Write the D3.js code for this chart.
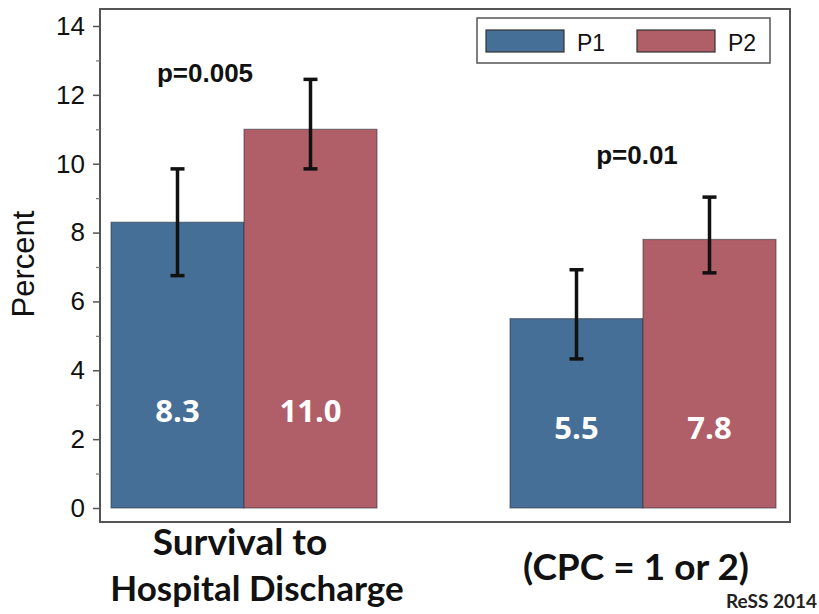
<!DOCTYPE html>
<html>
<head>
<meta charset="utf-8">
<script src="https://cdn.jsdelivr.net/npm/d3@7"></script>
<style>
  html, body { margin: 0; padding: 0; background: #fff; }
  svg { display: block; }
</style>
</head>
<body>
<svg id="chart" width="819" height="614"></svg>
<script>
// Outcome rates (%) by period, with confidence interval bounds
const groups = ["survival", "cpc"];
const periods = ["P1", "P2"];
const p1Values = [8.3, 5.5];
const p2Values = [11.0, 7.8];
const p1Low = [6.75, 4.33];
const p1High = [9.85, 6.92];
const p2Low = [9.85, 6.83];
const p2High = [12.45, 9.03];
const pLabels = ["p=0.005", "p=0.01"];
const categoryLines = [["Survival to", "Hospital Discharge"], ["(CPC = 1 or 2)"]];
const yTicks = [0, 2, 4, 6, 8, 10, 12, 14];
const yMinorTicks = [1, 3, 5, 7, 9, 11, 13];

const colors = { P1: "#466f98", P2: "#b05e67" };

const rows = groups.map((g, i) => ({
  group: g,
  bars: [
    { period: "P1", value: p1Values[i], lo: p1Low[i], hi: p1High[i] },
    { period: "P2", value: p2Values[i], lo: p2Low[i], hi: p2High[i] }
  ]
}));

const svg = d3.select("#chart");

const frame = { left: 100, top: 9, right: 790, bottom: 522 };

const y = d3.scaleLinear().domain([0, 14]).range([508, 26]);
const x0 = d3.scaleBand().domain(groups).range([111, 776]).paddingInner(1 / 3);
const x1 = d3.scaleBand().domain(periods).range([0, x0.bandwidth()]).padding(0);

// bars
const g = svg.selectAll("g.grp").data(rows).join("g")
  .attr("class", "grp")
  .attr("transform", d => `translate(${x0(d.group)},0)`);

g.selectAll("rect.bar").data(d => d.bars).join("rect")
  .attr("class", "bar")
  .attr("x", d => x1(d.period))
  .attr("y", d => y(d.value))
  .attr("width", x1.bandwidth())
  .attr("height", d => y(0) - y(d.value))
  .attr("fill", d => colors[d.period])
  .attr("stroke", "#2e3440")
  .attr("stroke-opacity", 0.55)
  .attr("stroke-width", 1.2);

// error bars
const capW = 14;
g.selectAll("g.err").data(d => d.bars).join("g")
  .attr("class", "err")
  .each(function (d) {
    const cx = x1(d.period) + x1.bandwidth() / 2;
    const e = d3.select(this);
    e.append("line").attr("x1", cx).attr("x2", cx).attr("y1", y(d.lo)).attr("y2", y(d.hi))
      .attr("stroke", "#111").attr("stroke-width", 3.5);
    [d.lo, d.hi].forEach(v => {
      e.append("line").attr("x1", cx - capW / 2).attr("x2", cx + capW / 2)
        .attr("y1", y(v)).attr("y2", y(v))
        .attr("stroke", "#111").attr("stroke-width", 3.5);
    });
  });

// value labels inside the bars
const labelLevel = [2.5, 2.0];
g.each(function (d, i) {
  d3.select(this).selectAll("text.val").data(d.bars).join("text")
    .attr("class", "val")
    .attr("x", b => x1(b.period) + x1.bandwidth() / 2)
    .attr("y", y(labelLevel[i]))
    .attr("text-anchor", "middle")
    .attr("font-family", "Open Sans, sans-serif")
    .attr("font-weight", "bold")
    .attr("font-size", 31)
    .attr("fill", "#fff")
    .text(b => b.value.toFixed(1));
});

// p-value annotations
const pOffsets = [{ dx: -39, v: 12.37 }, { dx: -6, v: 10.0 }];
svg.selectAll("text.pval").data(pLabels).join("text")
  .attr("class", "pval")
  .attr("x", (d, i) => x0(groups[i]) + x0.bandwidth() / 2 + pOffsets[i].dx)
  .attr("y", (d, i) => y(pOffsets[i].v))
  .attr("text-anchor", "middle")
  .attr("font-family", "Liberation Sans, Arial, sans-serif")
  .attr("font-weight", "bold")
  .attr("font-size", 26)
  .attr("fill", "#111")
  .text(d => d);

// frame
svg.append("rect")
  .attr("x", frame.left).attr("y", frame.top)
  .attr("width", frame.right - frame.left).attr("height", frame.bottom - frame.top)
  .attr("fill", "none").attr("stroke", "#555").attr("stroke-width", 2);

// y axis
const yAxis = d3.axisLeft(y).tickValues(yTicks).tickSize(7).tickPadding(8).tickFormat(d3.format("d"));
const ya = svg.append("g").attr("transform", `translate(${frame.left},0)`).call(yAxis);
ya.select(".domain").remove();
ya.selectAll(".tick line").attr("stroke", "#555").attr("stroke-width", 1.5);
ya.selectAll(".tick text")
  .attr("font-family", "Liberation Sans, Arial, sans-serif")
  .attr("font-size", 26)
  .attr("fill", "#111");
const yMinor = svg.append("g").attr("transform", `translate(${frame.left},0)`)
  .call(d3.axisLeft(y).tickValues(yMinorTicks).tickSize(4).tickFormat(""));
yMinor.select(".domain").remove();
yMinor.selectAll(".tick line").attr("stroke", "#777").attr("stroke-width", 1.2);

svg.append("text")
  .attr("transform", `translate(34,264) rotate(-90)`)
  .attr("text-anchor", "middle")
  .attr("font-family", "Liberation Sans, Arial, sans-serif")
  .attr("font-size", 31)
  .attr("fill", "#111")
  .text("Percent");

// category labels below the frame
const catBase = [[555, 601], [580]];
const catShift = [[-4, 13], [-7]];
const catSize = [[37, 35], [37]];
categoryLines.forEach((lines, i) => {
  lines.forEach((t, j) => {
    svg.append("text")
      .attr("x", x0(groups[i]) + x0.bandwidth() / 2 + catShift[i][j])
      .attr("y", catBase[i][j])
      .attr("text-anchor", "middle")
      .attr("font-family", "Lato, sans-serif")
      .attr("font-weight", "bold")
      .attr("font-size", catSize[i][j])
      .attr("fill", "#111")
      .text(t);
  });
});

// legend
const legend = svg.append("g").attr("transform", "translate(477,18)");
legend.append("rect").attr("width", 293).attr("height", 45)
  .attr("fill", "#fff").attr("stroke", "#555").attr("stroke-width", 1.5);
const legX = d3.scalePoint().domain(periods).range([9, 160]);
const li = legend.selectAll("g.item").data(periods).join("g")
  .attr("class", "item")
  .attr("transform", d => `translate(${legX(d)},12)`);
li.append("rect").attr("width", 78).attr("height", 22)
  .attr("fill", d => colors[d]).attr("stroke", "#333").attr("stroke-width", 1.2);
li.append("text").attr("x", 91).attr("y", 21)
  .attr("font-family", "Liberation Sans, Arial, sans-serif")
  .attr("font-size", 23)
  .attr("fill", "#111")
  .text(d => d);

// source note
svg.append("text")
  .attr("x", 817).attr("y", 608)
  .attr("text-anchor", "end")
  .attr("font-family", "Lato, sans-serif")
  .attr("font-weight", "bold")
  .attr("font-size", 19)
  .attr("fill", "#222")
  .text("ReSS 2014");
</script>
</body>
</html>
